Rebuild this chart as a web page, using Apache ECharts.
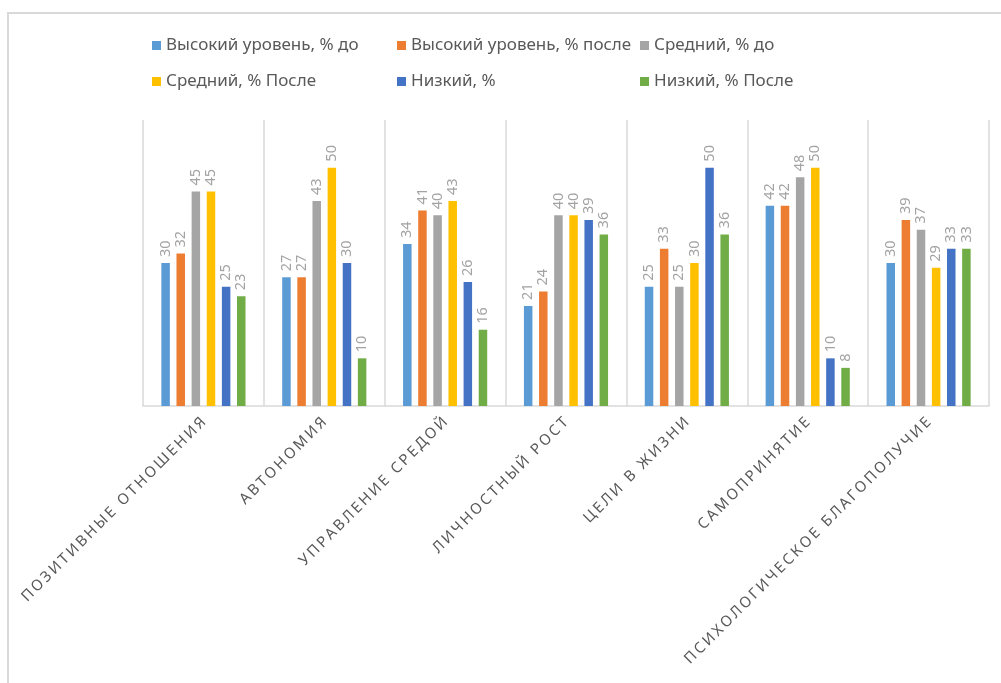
<!DOCTYPE html>
<html>
<head>
<meta charset="utf-8">
<script src="https://cdn.jsdelivr.net/npm/echarts@6/dist/echarts.min.js"></script>
<style>
  html, body { margin: 0; padding: 0; background: #fff; }
  #chart { width: 1001px; height: 683px; }
</style>
</head>
<body>
<div id="chart"></div>
<script>
// Scale categories (x axis)
const categories = [
  'ПОЗИТИВНЫЕ ОТНОШЕНИЯ',
  'АВТОНОМИЯ',
  'УПРАВЛЕНИЕ СРЕДОЙ',
  'ЛИЧНОСТНЫЙ РОСТ',
  'ЦЕЛИ В ЖИЗНИ',
  'САМОПРИНЯТИЕ',
  'ПСИХОЛОГИЧЕСКОЕ БЛАГОПОЛУЧИЕ'
];

// Series names
const seriesNames = [
  'Высокий уровень, % до',
  'Высокий уровень, % после',
  'Средний, % до',
  'Средний, % После',
  'Низкий, %',
  'Низкий, % После'
];

// Values per series, one per category
const highBefore = [30, 27, 34, 21, 25, 42, 30];
const highAfter  = [32, 27, 41, 24, 33, 42, 39];
const midBefore  = [45, 43, 40, 40, 25, 48, 37];
const midAfter   = [45, 50, 43, 40, 30, 50, 29];
const lowBefore  = [25, 30, 26, 39, 50, 10, 33];
const lowAfter   = [23, 10, 16, 36, 36,  8, 33];

const seriesValues = [highBefore, highAfter, midBefore, midAfter, lowBefore, lowAfter];
const colors = ['#5B9BD5', '#ED7D31', '#A5A5A5', '#FFC000', '#4472C4', '#70AD47'];

const chart = echarts.init(document.getElementById('chart'), null, { renderer: 'canvas' });

// Spread capital letters apart for the axis captions
const spaced = s => s.split('').join('\u2009');

const legendText = { color: '#595959', fontSize: 17, fontFamily: 'Noto Sans' };
const legendBase = {
  orient: 'vertical',
  top: 32,
  itemWidth: 9,
  itemHeight: 9,
  itemGap: 19,
  itemStyle: { borderWidth: 0 },
  icon: 'rect',
  textStyle: legendText,
  selectedMode: false
};

chart.setOption({
  animation: false,
  backgroundColor: '#fff',
  color: colors,
  legend: [
    Object.assign({}, legendBase, { left: 147, data: [seriesNames[0], seriesNames[3]] }),
    Object.assign({}, legendBase, { left: 392, data: [seriesNames[1], seriesNames[4]] }),
    Object.assign({}, legendBase, { left: 635, data: [seriesNames[2], seriesNames[5]] })
  ],
  grid: { left: 143, right: 12, top: 120, bottom: 277, containLabel: false },
  xAxis: {
    type: 'category',
    data: categories,
    boundaryGap: true,
    axisLine: { lineStyle: { color: '#d9d9d9', width: 1.5 } },
    axisTick: { show: false },
    splitLine: { show: true, lineStyle: { color: '#d9d9d9', width: 1.5 } },
    axisLabel: {
      interval: 0,
      rotate: 45,
      margin: 14,
      color: '#595959',
      fontSize: 15,
      fontFamily: 'Noto Sans',
      formatter: v => spaced(v)
    }
  },
  yAxis: {
    type: 'value',
    min: 0,
    max: 60,
    show: false,
    splitLine: { show: false }
  },
  series: seriesValues.map((vals, i) => ({
    name: seriesNames[i],
    type: 'bar',
    data: vals,
    barWidth: 8.5,
    barGap: '78%',
    itemStyle: { color: colors[i] },
    label: {
      show: true,
      position: 'top',
      rotate: 90,
      align: 'left',
      verticalAlign: 'middle',
      distance: 6,
      color: '#a3a3a3',
      fontSize: 14.5,
      fontFamily: 'Noto Sans'
    }
  })),
  graphic: [
    { type: 'line', shape: { x1: 7, y1: 13, x2: 1001, y2: 13 }, style: { stroke: '#d9d9d9', lineWidth: 2 } },
    { type: 'line', shape: { x1: 8, y1: 13, x2: 8, y2: 683 }, style: { stroke: '#d9d9d9', lineWidth: 2 } }
  ]
});
</script>
</body>
</html>
